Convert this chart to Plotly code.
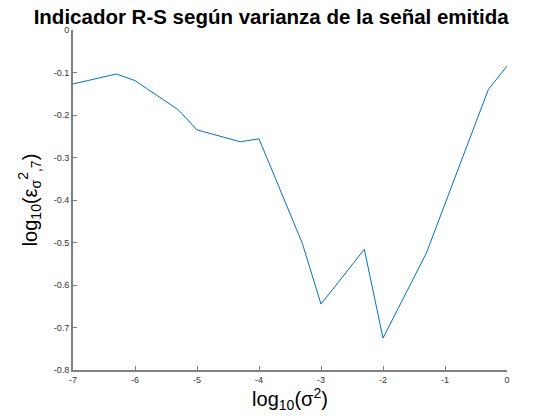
import plotly.graph_objects as go

x_vals = [-7, -6.301, -6, -5.301, -5, -4.301, -4, -3.301, -3, -2.301, -2, -1.301, -0.301, 0]
y_vals = [-0.127, -0.1035, -0.119, -0.188, -0.235, -0.263, -0.256, -0.502, -0.645, -0.516, -0.725, -0.525, -0.140, -0.085]

x_ticks = [-7, -6, -5, -4, -3, -2, -1, 0]
y_ticks = [0, -0.1, -0.2, -0.3, -0.4, -0.5, -0.6, -0.7, -0.8]
y_tick_labels = ["0", "-0.1", "-0.2", "-0.3", "-0.4", "-0.5", "-0.6", "-0.7", "-0.8"]

title_text = "Indicador R-S según varianza de la señal emitida"
x_label = "log<sub>10</sub>(σ<sup>2</sup>)"
y_label = "log<sub>10</sub>(ε<sub>σ</sub><sup>2</sup><sub>,7</sub>)"

FONT = "Liberation Sans, Arial, Helvetica"

fig = go.Figure()
fig.add_trace(go.Scatter(x=x_vals, y=y_vals, mode="lines",
                         line=dict(color="#0072BD", width=1), showlegend=False))

axis_common = dict(showgrid=False, zeroline=False, showline=True, linecolor="#808080",
                   linewidth=2, ticks="inside", ticklen=4, tickcolor="#808080", tickwidth=1,
                   tickfont=dict(family=FONT, size=9, color="#333333"),
                   mirror=False, automargin=False)

fig.update_layout(
    width=560, height=420,
    paper_bgcolor="white", plot_bgcolor="white",
    margin=dict(l=65, r=61, t=22, b=58, autoexpand=False),
    title=dict(text="<b>" + title_text + "</b>", x=0.47, xref="container", xanchor="center",
               y=0.978, yref="container", yanchor="middle", automargin=False,
               font=dict(family=FONT, size=20.5, color="black")),
    xaxis=dict(range=[-7, 0], tickvals=x_ticks, ticktext=[str(v) for v in x_ticks],
               title=dict(text=x_label, standoff=2,
                          font=dict(family=FONT, size=20, color="black")),
               **axis_common),
    yaxis=dict(range=[-0.8, 0], tickvals=y_ticks, ticktext=y_tick_labels,
               title=dict(text=y_label, standoff=11,
                          font=dict(family=FONT, size=20, color="black")),
               **axis_common),
)

fig.write_html("out.html")
